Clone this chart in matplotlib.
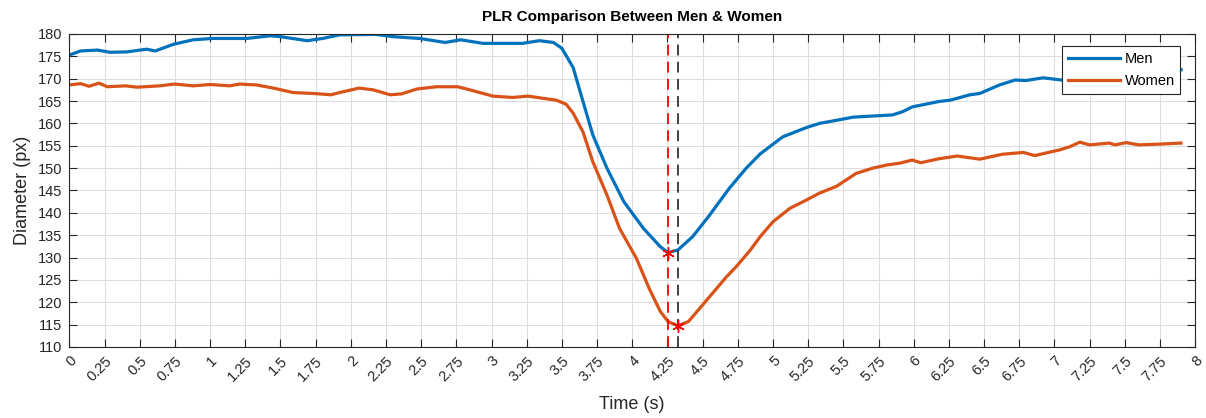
import matplotlib
matplotlib.use("Agg")
import matplotlib.pyplot as plt
import numpy as np

# pupil diameter (time in s, diameter in px)
men_t = [0.0, 0.08, 0.2, 0.29, 0.41, 0.55, 0.61, 0.74, 0.88, 1.02, 1.26, 1.43, 1.5,
         1.69, 1.8, 1.92, 2.18, 2.3, 2.49, 2.67, 2.78, 2.94, 3.22, 3.34, 3.44, 3.5,
         3.58, 3.65, 3.72, 3.82, 3.94, 4.08, 4.2, 4.254, 4.325, 4.43, 4.55, 4.69,
         4.81, 4.91, 5.07, 5.24, 5.33, 5.47, 5.57, 5.85, 5.92, 5.99, 6.18, 6.26,
         6.4, 6.47, 6.61, 6.72, 6.8, 6.92, 7.05, 7.25, 7.5, 7.75, 7.9]
men_d = [175.3, 176.2, 176.4, 175.9, 176.0, 176.6, 176.2, 177.7, 178.7, 179.0, 179.0,
         179.6, 179.4, 178.5, 179.0, 179.8, 179.9, 179.4, 179.0, 178.1, 178.7, 177.9,
         177.9, 178.5, 178.1, 176.8, 172.5, 164.9, 157.4, 150.0, 142.5, 136.5, 132.4,
         131.1, 131.7, 134.7, 139.5, 145.5, 150.0, 153.2, 157.0, 159.1, 160.0, 160.8,
         161.4, 161.9, 162.6, 163.7, 164.9, 165.2, 166.4, 166.7, 168.6, 169.7, 169.6,
         170.2, 169.7, 170.2, 170.8, 171.5, 172.0]

women_t = [0.0, 0.08, 0.14, 0.21, 0.27, 0.4, 0.48, 0.64, 0.75, 0.88, 1.0, 1.14, 1.21,
           1.33, 1.45, 1.59, 1.73, 1.86, 1.92, 2.06, 2.16, 2.28, 2.36, 2.47, 2.61,
           2.76, 2.87, 3.01, 3.15, 3.26, 3.39, 3.46, 3.53, 3.58, 3.65, 3.72, 3.82,
           3.91, 4.03, 4.12, 4.2, 4.254, 4.325, 4.4, 4.5, 4.6, 4.67, 4.74, 4.84, 4.91,
           5.0, 5.12, 5.24, 5.33, 5.45, 5.59, 5.71, 5.81, 5.9, 5.99, 6.05, 6.18, 6.31,
           6.47, 6.63, 6.78, 6.86, 7.04, 7.11, 7.18, 7.25, 7.39, 7.43, 7.51, 7.6,
           7.77, 7.9]
women_d = [168.6, 168.9, 168.3, 169.0, 168.2, 168.4, 168.1, 168.4, 168.8, 168.4, 168.7,
           168.4, 168.8, 168.6, 167.9, 166.9, 166.7, 166.4, 166.9, 167.9, 167.5, 166.4,
           166.6, 167.7, 168.2, 168.2, 167.3, 166.1, 165.8, 166.1, 165.5, 165.2, 164.3,
           162.3, 158.1, 151.4, 144.0, 136.5, 129.8, 123.1, 117.9, 115.7, 114.7, 115.7,
           119.4, 123.1, 125.7, 128.0, 131.7, 134.7, 138.0, 141.0, 142.9, 144.4, 145.9,
           148.8, 150.0, 150.7, 151.1, 151.8, 151.2, 152.1, 152.7, 152.0, 153.1, 153.5,
           152.8, 154.1, 154.8, 155.8, 155.2, 155.6, 155.2, 155.7, 155.2, 155.4, 155.6]

# minima
men_min = (4.254, 131.1)
women_min = (4.325, 114.7)

x_ticks = np.arange(0, 8.001, 0.25)
y_ticks = np.arange(110, 181, 5)

blue = "#0072BD"
orange = "#D95319"
axc = "#262626"

plt.rcParams['font.family'] = ['Liberation Sans', 'DejaVu Sans']

fig = plt.figure(figsize=(12.06, 4.18), dpi=100)
ax = fig.add_axes([0.0575, 0.170, 0.9335, 0.7487])

ax.plot(men_t, men_d, color=blue, lw=2.3, label="Men")
ax.plot(women_t, women_d, color=orange, lw=2.3, label="Women")

ax.axvline(men_min[0], color="red", ls=(0, (6, 3.5)), lw=1.3)
ax.axvline(women_min[0], color="#333333", ls=(0, (6, 3.5)), lw=1.3)
ax.plot([men_min[0], women_min[0]], [men_min[1], women_min[1]], ls="none",
        marker=(6, 2, 0), color="red", ms=9, mew=1.0)

ax.set_xlim(0, 8)
ax.set_ylim(110, 180)
ax.set_xticks(x_ticks)
ax.set_xticklabels(["%g" % v for v in x_ticks], rotation=45, ha="right",
                   va="top", rotation_mode="anchor")
ax.set_yticks(y_ticks)
ax.grid(True, color="#dedede", lw=0.8)
ax.set_axisbelow(True)
ax.tick_params(direction="in", length=6, width=0.8, colors=axc, labelsize=10.5,
               top=True, right=True, pad=5)
for s in ax.spines.values():
    s.set_color(axc)
    s.set_linewidth(0.8)

ax.set_title("PLR Comparison Between Men & Women", fontsize=11,
             fontweight="bold", color="black", pad=9)
ax.set_xlabel("Time (s)", fontsize=13, color=axc, labelpad=9)
ax.set_ylabel("Diameter (px)", fontsize=13, color=axc, labelpad=5)

leg = ax.legend(loc="upper right", bbox_to_anchor=(0.9895, 0.97), fontsize=10.5,
                fancybox=False, framealpha=1, edgecolor=axc, handlelength=3.6,
                handletextpad=0.3, borderpad=0.4, labelspacing=0.55,
                borderaxespad=0.2)
leg.get_frame().set_linewidth(0.8)

fig.savefig("out.png", dpi=100)
